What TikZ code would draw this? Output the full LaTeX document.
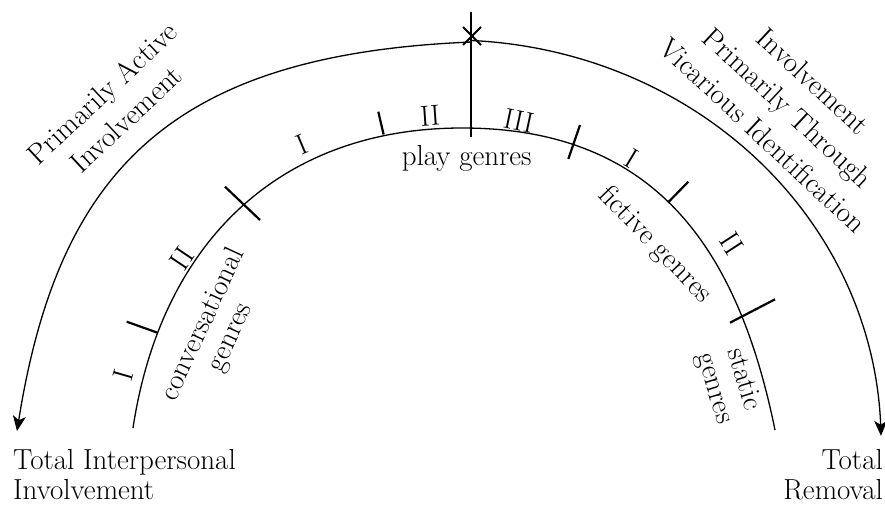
\documentclass[tikz,border=0pt]{standalone}
\usepackage{fontspec}
\usetikzlibrary{arrows.meta}
\begin{document}
\begin{tikzpicture}[x=1pt,y=-1pt,
  arcline/.style={line width=1.3pt},
  tickline/.style={line width=2.2pt},
  endarrow/.style={-{Stealth[length=15pt,width=13pt,inset=4pt]}},
  lbl/.style={font=\fontsize{29}{35}\selectfont, inner sep=0pt},
  lbltight/.style={font=\fontsize{29}{30}\selectfont, inner sep=0pt},
  lblwide/.style={font=\fontsize{29}{37}\selectfont, inner sep=0pt}]
\useasboundingbox (0,0) rectangle (885,507);
% outer pointed arch
\coordinate (apex) at (472,42);
\coordinate (oL) at (17,431);
\draw[arcline,endarrow] (apex) .. controls (172,54) and (58.6,170) .. (oL);
\draw[arcline,endarrow] plot[domain=87.1:0.6, samples=90, smooth]
     ({450+431*cos(\x)},{440-400*sin(\x)});
% inner arc
\coordinate (iA) at (462,128);
\coordinate (iL) at (133,428);
\coordinate (iR) at (775,430);
\draw[arcline] (iL) .. controls (161.5,240) and (282,128) .. (iA)
               .. controls (652,128) and (737,243.8) .. (iR);
% vertical line and cross
\coordinate (vT) at (471,12);
\coordinate (vB) at (471,137);
\draw[line width=1.2pt] (vT) -- (vB);
\coordinate (x1) at (463,27); \coordinate (x2) at (481,45);
\coordinate (x3) at (481,27); \coordinate (x4) at (463,45);
\draw[line width=1.9pt] (x1) -- (x2) (x3) -- (x4);
% ticks
\coordinate (t1a) at (126.7,321.7); \coordinate (t1b) at (157,332.5);
\coordinate (t2a) at (225,186.7);   \coordinate (t2b) at (260,220);
\coordinate (t3a) at (378.3,111.7); \coordinate (t3b) at (383.6,134.5);
\coordinate (t4a) at (580,125);     \coordinate (t4b) at (568.3,159);
\coordinate (t5a) at (688.3,181.7); \coordinate (t5b) at (668,202.5);
\coordinate (t6a) at (775,299.3);   \coordinate (t6b) at (730,322.7);
\foreach \t in {1,...,6} \draw[tickline] (t\t a) -- (t\t b);
% labels
\node[lbl, rotate=43, align=center] (pa) at (114,106) {Primarily Active\\Involvement};
\node[lblwide, rotate=-43, align=center] (pt) at (788,108) {Involvement\\Primarily Through\\Vicarious Identification};
\node[lbl] (pg) at (466.7,158.7) {play genres};
\node[lbl, rotate=74] (n1) at (123.3,375) {I};
\node[lbl, rotate=56] (n2) at (181.7,258.3) {II};
\node[lbl, rotate=23] (n3) at (301.7,145) {I};
\node[lbl, rotate=4] (n4) at (430,116) {II};
\node[lbl, rotate=-12] (n5) at (519,121) {III};
\node[lbl, rotate=-31] (n6) at (631.7,158.3) {I};
\node[lbl, rotate=-57] (n7) at (731.7,243.3) {II};
\node[lbltight, rotate=65, align=center] (cg) at (217,331) {conversational\\genres};
\node[lbl, rotate=-46] (fg) at (655,245) {fictive genres};
\node[lbltight, rotate=-73, align=center] (sg) at (728.3,384.2) {static\\genres};
\node[font=\fontsize{29}{30}\selectfont, inner sep=0pt, anchor=south west, align=left] (ti) at (13,500) {Total Interpersonal\\Involvement};
\node[font=\fontsize{29}{30}\selectfont, inner sep=0pt, anchor=south east, align=right] (tr) at (883,500) {Total\\Removal};
\end{tikzpicture}
\end{document}
